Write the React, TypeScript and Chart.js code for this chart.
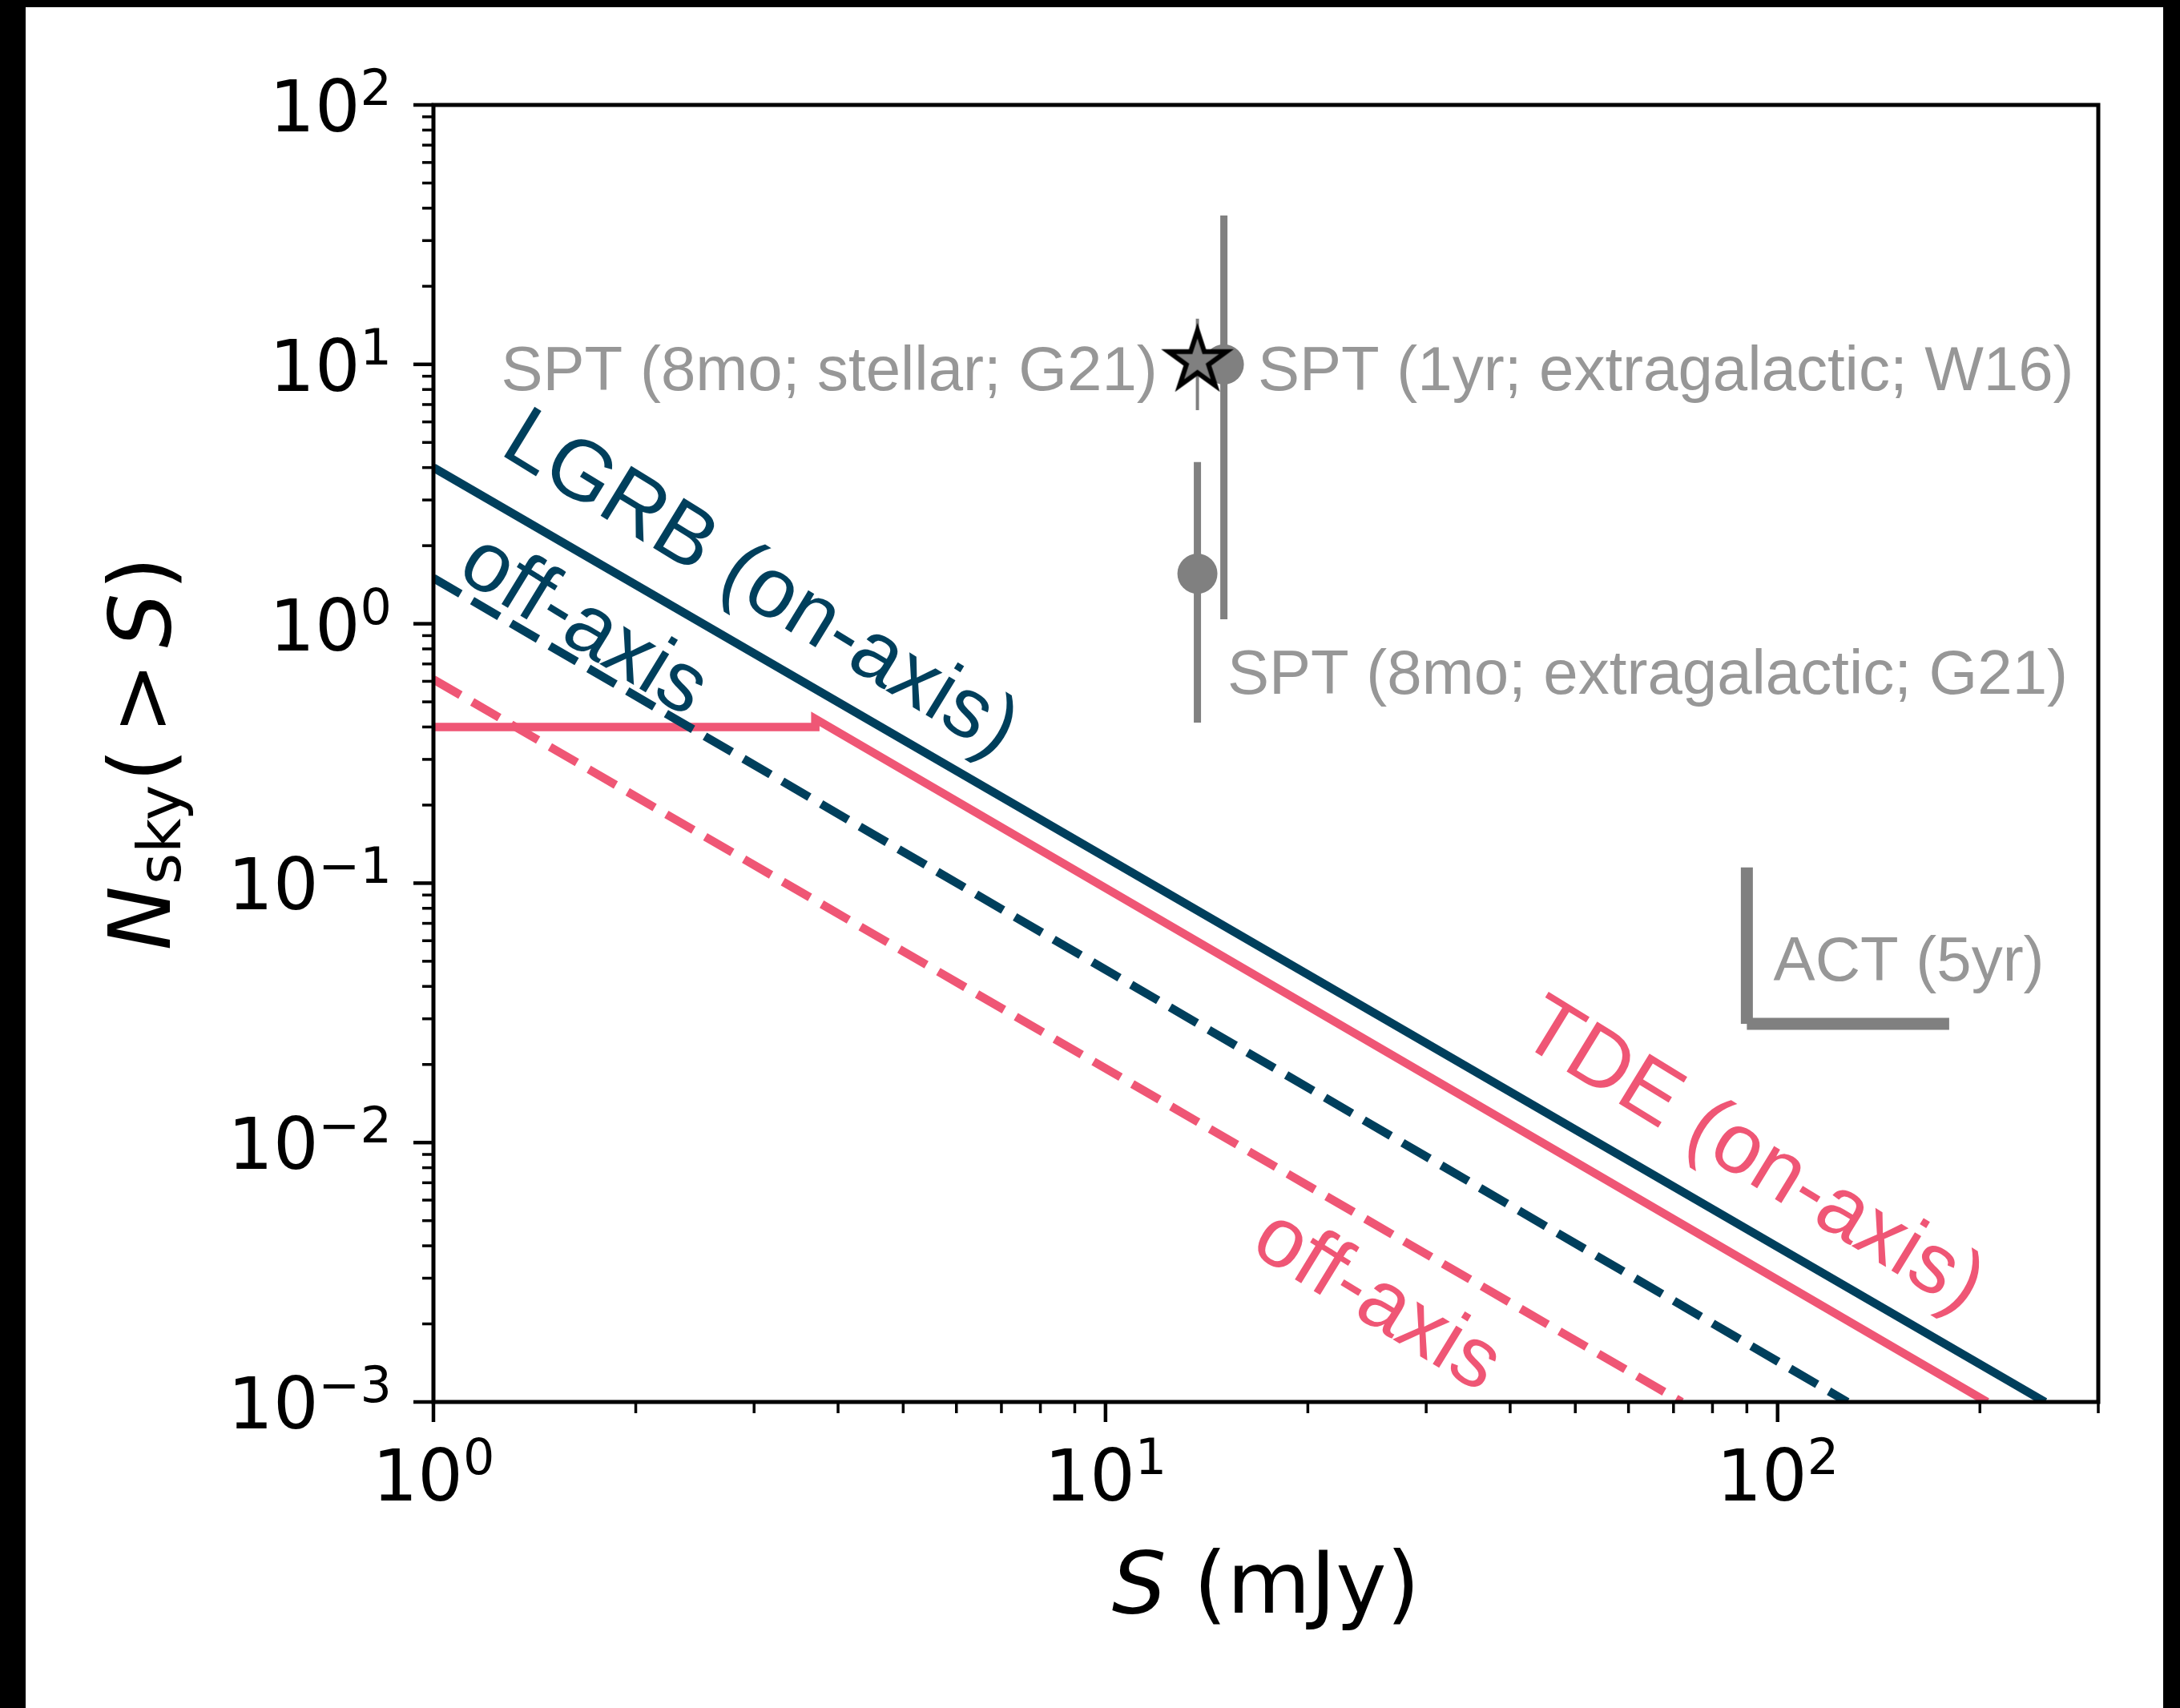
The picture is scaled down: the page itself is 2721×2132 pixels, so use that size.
import React, { useEffect, useRef } from "react";
import { Chart, registerables } from "chart.js";

Chart.register(...registerables);

// ---------------- Data ----------------
// Axis ranges
const X_MIN = 1;
const X_MAX = 300;
const Y_MIN = 1e-3;
const Y_MAX = 1e2;

// Tick label exponents (10^n)
const xTickExponents = [0, 1, 2];
const yTickExponents = [-3, -2, -1, 0, 1, 2];

// Model curves: S (mJy) and N_sky(>S)
const lgrbOnAxisS = [1, 250];
const lgrbOnAxisN = [4.0, 0.001];
const lgrbOffAxisS = [1, 127];
const lgrbOffAxisN = [1.5, 0.001];
const tdeOnAxisS = [1, 3.7, 3.7, 205];
const tdeOnAxisN = [0.4, 0.4, 0.43, 0.001];
const tdeOffAxisS = [1, 72];
const tdeOffAxisN = [0.61, 0.001];

// SPT measurements (circles): 1yr extragalactic W16, 8mo extragalactic G21
const sptPointS = [15.0, 13.7];
const sptPointN = [10.0, 1.56];
const sptErrLow = [1.04, 0.416];
const sptErrHigh = [37.5, 4.2];

// SPT stellar (star)
const sptStellarS = [13.7];
const sptStellarN = [10.3];
const sptStellarLow = [6.66];
const sptStellarHigh = [15.0];

// ACT (5yr) limit marker
const actVerticalS = [90, 90];
const actVerticalN = [0.115, 0.0287];
const actHorizontalS = [90, 180];
const actHorizontalN = [0.0287, 0.0287];

// Text labels
const sptLabels = [
  "SPT (8mo; stellar; G21)",
  "SPT (1yr; extragalactic; W16)",
  "SPT (8mo; extragalactic; G21)",
  "ACT (5yr)",
];
const curveLabels = ["LGRB (on-axis)", "off-axis", "TDE (on-axis)", "off-axis"];

// ---------------- Layout / style ----------------
const W = 2721;
const H = 2132;
const NAVY = "#003f5c";
const PINK = "#ef5675";
const GRAY = "#808080";
const TEXT_GRAY = "#979797";
const LW = 10.5;
const DASH = [39, 17];

// anchors (in data coordinates) for annotation text
const sptLabelAnchors = [
  { x: 11.95, y: 7.95, align: "right" },
  { x: 16.85, y: 7.95, align: "left" },
  { x: 15.18, y: 0.537, align: "left" },
  { x: 98.6, y: 0.0421, align: "left" },
];
const curveLabelAnchors = [
  { x: 3.06, y: 1.4, color: NAVY },
  { x: 1.67, y: 0.976, color: NAVY },
  { x: 91.6, y: 0.00875, color: PINK },
  { x: 25.3, y: 0.00243, color: PINK },
];

const TICK_FONT = 89;
const SUP_FONT = 62;
const SUP_RISE = 33;
const LABEL_FONT = 107;
const ANN_FONT = 78;
const CURVE_FONT = 106;
const CURVE_ANGLE = 31.5;

const pts = (xs: number[], ys: number[]) => xs.map((x, i) => ({ x, y: ys[i] }));

function makeStar(): HTMLCanvasElement {
  const c = document.createElement("canvas");
  const size = 100;
  c.width = size;
  c.height = size;
  const g = c.getContext("2d")!;
  const R = 38;
  const r = R * 0.381966;
  const cx = size / 2;
  const cy = size / 2;
  g.beginPath();
  for (let i = 0; i < 10; i++) {
    const rad = i % 2 === 0 ? R : r;
    const ang = -Math.PI / 2 + (i * Math.PI) / 5;
    const px = cx + rad * Math.cos(ang);
    const py = cy + rad * Math.sin(ang);
    if (i === 0) g.moveTo(px, py);
    else g.lineTo(px, py);
  }
  g.closePath();
  g.fillStyle = GRAY;
  g.fill();
  g.lineJoin = "miter";
  g.lineWidth = 6;
  g.strokeStyle = "#000";
  g.stroke();
  return c;
}

function drawPow10(ctx: CanvasRenderingContext2D, exp: number, x: number, baseline: number, align: "right" | "center") {
  const base = "10";
  const expStr = exp < 0 ? "\u2212" + Math.abs(exp) : String(exp);
  ctx.font = `${TICK_FONT}px "DejaVu Sans"`;
  const wb = ctx.measureText(base).width;
  ctx.font = `${SUP_FONT}px "DejaVu Sans"`;
  const we = ctx.measureText(expStr).width;
  const total = wb + we;
  const x0 = align === "right" ? x - total : x - total / 2;
  ctx.textAlign = "left";
  ctx.textBaseline = "alphabetic";
  ctx.font = `${TICK_FONT}px "DejaVu Sans"`;
  ctx.fillText(base, x0, baseline);
  ctx.font = `${SUP_FONT}px "DejaVu Sans"`;
  ctx.fillText(expStr, x0 + wb, baseline - SUP_RISE);
}

type Run = { text: string; font: string; dy?: number; padBefore?: number; padAfter?: number };

function drawRuns(ctx: CanvasRenderingContext2D, runs: Run[], cx: number, baseline: number) {
  let total = 0;
  const widths: number[] = [];
  for (const r of runs) {
    ctx.font = r.font;
    const w = ctx.measureText(r.text).width;
    widths.push(w);
    total += (r.padBefore || 0) + w + (r.padAfter || 0);
  }
  let x = cx - total / 2;
  ctx.textAlign = "left";
  ctx.textBaseline = "alphabetic";
  runs.forEach((r, i) => {
    ctx.font = r.font;
    x += r.padBefore || 0;
    ctx.fillText(r.text, x, baseline + (r.dy || 0));
    x += widths[i] + (r.padAfter || 0);
  });
}

const framePlugin = {
  id: "frame",
  beforeDraw(chart: any) {
    const ctx = chart.ctx as CanvasRenderingContext2D;
    ctx.save();
    ctx.fillStyle = "#ffffff";
    ctx.fillRect(0, 0, W, H);
    ctx.fillStyle = "#000000";
    ctx.fillRect(0, 0, 32, H);
    ctx.fillRect(0, 0, W, 9);
    ctx.fillRect(2700, 0, W - 2700, H);
    ctx.restore();
  },
};

const axesPlugin = {
  id: "mplAxes",
  afterDatasetsDraw(chart: any) {
    const ctx = chart.ctx as CanvasRenderingContext2D;
    const a = chart.chartArea;
    const xs = chart.scales.x;
    const ys = chart.scales.y;
    ctx.save();
    ctx.strokeStyle = "#000";
    ctx.lineWidth = 5;
    ctx.strokeRect(a.left, a.top, a.right - a.left, a.bottom - a.top);

    // y ticks
    for (const e of yTickExponents) {
      for (let k = 1; k <= 9; k++) {
        const v = k * Math.pow(10, e);
        if (v < Y_MIN * 0.999 || v > Y_MAX * 1.001) continue;
        const py = ys.getPixelForValue(v);
        const major = k === 1;
        ctx.lineWidth = major ? 4.5 : 3.5;
        ctx.beginPath();
        ctx.moveTo(a.left - (major ? 25 : 14), py);
        ctx.lineTo(a.left, py);
        ctx.stroke();
      }
    }
    // x ticks
    for (const e of xTickExponents) {
      for (let k = 1; k <= 9; k++) {
        const v = k * Math.pow(10, e);
        if (v < X_MIN * 0.999 || v > X_MAX * 1.001) continue;
        const px = xs.getPixelForValue(v);
        const major = k === 1;
        ctx.lineWidth = major ? 4.5 : 3.5;
        ctx.beginPath();
        ctx.moveTo(px, a.bottom);
        ctx.lineTo(px, a.bottom + (major ? 25 : 14));
        ctx.stroke();
      }
    }
    ctx.restore();
  },
  afterDraw(chart: any) {
    const ctx = chart.ctx as CanvasRenderingContext2D;
    const a = chart.chartArea;
    const xs = chart.scales.x;
    const ys = chart.scales.y;
    ctx.save();
    ctx.fillStyle = "#000";
    // tick labels
    for (const e of yTickExponents) {
      const py = ys.getPixelForValue(Math.pow(10, e));
      drawPow10(ctx, e, a.left - 52, py + 33, "right");
    }
    for (const e of xTickExponents) {
      const px = xs.getPixelForValue(Math.pow(10, e));
      drawPow10(ctx, e, px, a.bottom + 123, "center");
    }
    // x axis label
    const fReg = `${LABEL_FONT}px "DejaVu Sans"`;
    const fIt = `italic ${LABEL_FONT}px "DejaVu Sans"`;
    drawRuns(
      ctx,
      [
        { text: "S", font: fIt },
        { text: " (mJy)", font: fReg },
      ],
      (a.left + a.right) / 2,
      a.bottom + 263
    );
    // y axis label
    ctx.save();
    ctx.translate(212, (a.top + a.bottom) / 2);
    ctx.rotate(-Math.PI / 2);
    drawRuns(
      ctx,
      [
        { text: "N", font: fIt },
        { text: "sky", font: `75px "DejaVu Sans"`, dy: 13, padBefore: 2 },
        { text: "(", font: fReg, padBefore: 4 },
        { text: ">", font: fReg, padBefore: 18, padAfter: 18 },
        { text: "S", font: fIt },
        { text: ")", font: fReg, padBefore: 4 },
      ],
      0,
      0
    );
    ctx.restore();

    // SPT / ACT annotations
    ctx.fillStyle = TEXT_GRAY;
    ctx.font = `${ANN_FONT}px "Liberation Sans"`;
    ctx.textBaseline = "alphabetic";
    sptLabels.forEach((t, i) => {
      const an = sptLabelAnchors[i];
      ctx.textAlign = an.align as CanvasTextAlign;
      ctx.fillText(t, xs.getPixelForValue(an.x), ys.getPixelForValue(an.y));
    });

    // curve labels (rotated)
    ctx.font = `${CURVE_FONT}px "Liberation Sans"`;
    ctx.textAlign = "center";
    ctx.textBaseline = "middle";
    curveLabels.forEach((t, i) => {
      const an = curveLabelAnchors[i];
      ctx.save();
      ctx.translate(xs.getPixelForValue(an.x), ys.getPixelForValue(an.y));
      ctx.rotate((CURVE_ANGLE * Math.PI) / 180);
      ctx.fillStyle = an.color;
      ctx.fillText(t, 0, 0);
      ctx.restore();
    });
    ctx.restore();
  },
};

export default function App() {
  const ref = useRef<HTMLCanvasElement>(null);
  useEffect(() => {
    const canvas = ref.current!;
    const star = makeStar();
    const lineDs = (label: string, xs: number[], ys: number[], color: string, dashed: boolean, width: number, order: number) => ({
      label,
      data: pts(xs, ys),
      borderColor: color,
      backgroundColor: color,
      borderWidth: width,
      borderDash: dashed ? DASH : [],
      pointRadius: 0,
      fill: false,
      tension: 0,
      order,
    });
    const datasets: any[] = [
      lineDs("LGRB (on-axis)", lgrbOnAxisS, lgrbOnAxisN, NAVY, false, LW, 10),
      lineDs("LGRB (off-axis)", lgrbOffAxisS, lgrbOffAxisN, NAVY, true, LW, 10),
      lineDs("TDE (on-axis)", tdeOnAxisS, tdeOnAxisN, PINK, false, LW, 10),
      lineDs("TDE (off-axis)", tdeOffAxisS, tdeOffAxisN, PINK, true, LW, 10),
      ...sptPointS.map((s, i) =>
        lineDs("SPT err " + i, [s, s], [sptErrLow[i], sptErrHigh[i]], GRAY, false, 9, 6)
      ),
      ...sptStellarS.map((s, i) =>
        lineDs("SPT stellar err " + i, [s, s], [sptStellarLow[i], sptStellarHigh[i]], GRAY, false, 4, 6)
      ),
      lineDs("ACT vertical", actVerticalS, actVerticalN, GRAY, false, 15, 6),
      lineDs("ACT horizontal", actHorizontalS, actHorizontalN, GRAY, false, 15, 6),
      {
        label: "SPT points",
        data: pts(sptPointS, sptPointN),
        showLine: false,
        pointRadius: 25,
        pointBackgroundColor: GRAY,
        pointBorderWidth: 0,
        pointBorderColor: GRAY,
        order: 3,
      },
      {
        label: "SPT stellar",
        data: pts(sptStellarS, sptStellarN),
        showLine: false,
        pointStyle: star,
        pointRadius: 40,
        order: 1,
      },
    ];
    const chart = new Chart(canvas, {
      type: "line",
      data: { datasets },
      options: {
        responsive: false,
        maintainAspectRatio: false,
        animation: false,
        devicePixelRatio: 1,
        events: [],
        layout: { padding: { left: 541, top: 131, right: W - 2619, bottom: H - 1750 } },
        plugins: { legend: { display: false }, tooltip: { enabled: false } },
        scales: {
          x: { type: "logarithmic", min: X_MIN, max: X_MAX, display: false },
          y: { type: "logarithmic", min: Y_MIN, max: Y_MAX, display: false },
        },
      },
      plugins: [framePlugin, axesPlugin],
    } as any);
    return () => chart.destroy();
  }, []);
  return (
    <div style={{ position: "fixed", left: 0, top: 0, width: W, height: H, background: "#fff" }}>
      <canvas ref={ref} width={W} height={H} style={{ display: "block", width: W, height: H }} />
    </div>
  );
}
